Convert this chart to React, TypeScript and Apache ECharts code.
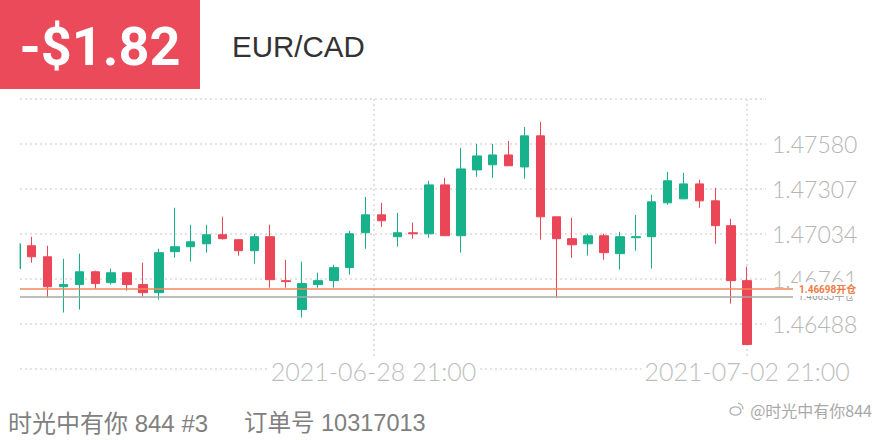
import React, { useEffect, useRef } from "react";
import * as echarts from "echarts";

// ---- header / footer texts ----
const pnlText = "-$1.82";
const symbolText = "EUR/CAD";
const footerUser = "时光中有你 844 #3";
const footerOrder = "订单号 10317013";
const watermarkText = "@时光中有你844";

// ---- candles (bar position k = 0..46, first one is cut by the left edge) ----
const opens = [
  1.46822, 1.46961, 1.46894, 1.46712, 1.46725, 1.46803, 1.46737, 1.46797, 1.46725, 1.46676,
  1.46925, 1.46955, 1.46973, 1.47028, 1.46998, 1.46931, 1.47016, 1.46749, 1.46573, 1.46725,
  1.46749, 1.46828, 1.47040, 1.47149, 1.47016, 1.47040, 1.47034, 1.47331, 1.47022, 1.47422,
  1.47453, 1.47513, 1.47440, 1.47629, 1.47137, 1.47004, 1.46973, 1.47022, 1.46913, 1.47010,
  1.47016, 1.47222, 1.47246, 1.47337, 1.47234, 1.47083, 1.46749,
];
const closes = [
  1.46973, 1.46894, 1.46712, 1.46725, 1.46803, 1.46731, 1.46797, 1.46725, 1.46676, 1.46919,
  1.46955, 1.46985, 1.47028, 1.47004, 1.46931, 1.47016, 1.46755, 1.46743, 1.46731, 1.46749,
  1.46828, 1.47034, 1.47149, 1.47113, 1.47040, 1.47034, 1.47331, 1.47022, 1.47428, 1.47507,
  1.47513, 1.47447, 1.47629, 1.47137, 1.47004, 1.46967, 1.47022, 1.46919, 1.47016, 1.47016,
  1.47228, 1.47356, 1.47337, 1.47234, 1.47083, 1.46749, 1.46361,
];
const lows = [
  1.46800, 1.46858, 1.46646, 1.46555, 1.46573, 1.46700, 1.46725, 1.46688, 1.46652, 1.46634,
  1.46888, 1.46864, 1.46919, 1.46998, 1.46901, 1.46852, 1.46706, 1.46706, 1.46524, 1.46706,
  1.46706, 1.46785, 1.46943, 1.47076, 1.46955, 1.47004, 1.47010, 1.47022, 1.46919, 1.47380,
  1.47374, 1.47447, 1.47368, 1.46998, 1.46646, 1.46888, 1.46901, 1.46876, 1.46816, 1.46931,
  1.46822, 1.47210, 1.47246, 1.47192, 1.46973, 1.46609, 1.46361,
];
const highs = [
  1.46990, 1.47016, 1.46961, 1.46882, 1.46913, 1.46810, 1.46822, 1.46800, 1.46858, 1.46943,
  1.47192, 1.47089, 1.47089, 1.47137, 1.47000, 1.47034, 1.47089, 1.46876, 1.46864, 1.46797,
  1.46846, 1.47052, 1.47258, 1.47222, 1.47161, 1.47101, 1.47356, 1.47374, 1.47556, 1.47580,
  1.47580, 1.47598, 1.47683, 1.47714, 1.47137, 1.47131, 1.47034, 1.47034, 1.47046, 1.47149,
  1.47271, 1.47410, 1.47404, 1.47362, 1.47313, 1.47125, 1.46834,
];

// ---- axes ----
const yMin = 1.46215;
const yMax = 1.47853;
const yStep = 0.00273;
const xMin = 0.264;
const xMax = 47.19;
const xTickPositions = [22.5, 46];
const xTickLabels = ["2021-06-28 21:00", "2021-07-02 21:00"];

// ---- position lines ----
const openPrice = 1.46698;
const openTag = "开仓";
const closePrice = 1.46653;
const closeTag = "平仓";

const UP = "#17B28B";
const DOWN = "#EA4658";
const GRID_LINE = "#e2e2e2";
const LIGHT_FONT = 'Lato, Roboto, sans-serif';

export default function App() {
  const ref = useRef<HTMLDivElement>(null);

  useEffect(() => {
    if (!ref.current) return;
    const chart = echarts.init(ref.current, undefined, { renderer: "svg" });
    const candleData = opens.map((o, k) => [k, o, closes[k], lows[k], highs[k]]);
    const dotted = { type: [2, 3] as any, width: 2, color: GRID_LINE };

    chart.setOption({
      animation: false,
      backgroundColor: "#ffffff",
      textStyle: { fontFamily: 'Roboto, "Noto Sans CJK SC", sans-serif' },
      grid: { left: 20, right: 114, top: 99, bottom: 71.5, containLabel: false, outerBoundsMode: "none" },
      xAxis: {
        type: "value",
        min: xMin,
        max: xMax,
        axisLine: { show: false },
        axisTick: { show: false, customValues: xTickPositions },
        splitLine: { show: true, lineStyle: dotted },
        axisLabel: {
          customValues: xTickPositions,
          formatter: (v: number) => {
            const i = xTickPositions.findIndex((p) => Math.abs(p - v) < 1e-6);
            return i >= 0 ? xTickLabels[i] : "";
          },
          fontSize: 25,
          fontWeight: 300,
          fontFamily: LIGHT_FONT,
          color: "#bdbdbd",
          verticalAlign: "middle",
          margin: 2,
          backgroundColor: "#ffffff",
          padding: [0, 3],
        },
      },
      yAxis: {
        type: "value",
        position: "right",
        min: yMin,
        max: yMax,
        interval: yStep,
        axisLine: { show: false },
        axisTick: { show: false },
        splitLine: { show: true, lineStyle: dotted },
        axisLabel: {
          showMinLabel: false,
          showMaxLabel: false,
          formatter: (v: number) => v.toFixed(5),
          fontSize: 23,
          fontWeight: 300,
          fontFamily: LIGHT_FONT,
          color: "#b5b5b5",
          margin: 6,
        },
      },
      series: [
        {
          type: "candlestick",
          data: candleData,
          encode: { x: 0, y: [1, 2, 3, 4] },
          barWidth: 9,
          clip: true,
          itemStyle: {
            color: UP,
            color0: DOWN,
            borderColor: UP,
            borderColor0: DOWN,
            borderWidth: 1,
          },
        },
        {
          type: "line",
          data: [],
          clip: false,
          silent: true,
          markLine: {
            symbol: "none",
            silent: true,
            animation: false,
            data: [
              [
                {
                  x: 20,
                  yAxis: closePrice,
                  lineStyle: { color: "#a9a9a9", width: 1.5, type: "solid" },
                  label: {
                    show: true,
                    position: "end",
                    formatter: closePrice.toFixed(5) + closeTag,
                    color: "#9a9a9a",
                    fontSize: 10,
                    distance: 5,
                  },
                },
                { x: 793, yAxis: closePrice },
              ],
              [
                {
                  x: 20,
                  yAxis: openPrice,
                  lineStyle: { color: "#F2875A", width: 1.5, type: "solid" },
                  label: {
                    show: true,
                    position: "end",
                    formatter: openPrice.toFixed(5) + openTag,
                    color: "#EF7A45",
                    fontSize: 10,
                    fontWeight: "bold",
                    distance: 5,
                    backgroundColor: "#ffffff",
                    padding: [2, 1, 2, 1],
                  },
                },
                { x: 793, yAxis: openPrice },
              ],
            ],
          },
        },
      ],
      graphic: [
        // the plot is scrolled: the first bar is cut by the plot's left edge
        { type: "rect", z: 100, shape: { x: 0, y: 95, width: 19.6, height: 280 }, style: { fill: "#ffffff" } },
        { type: "rect", z: 101, shape: { x: 0, y: 0, width: 200, height: 89 }, style: { fill: "#EA4A59" } },
        {
          type: "text",
          z: 102,
          x: 100,
          y: 46,
          style: {
            text: pnlText,
            fill: "#ffffff",
            fontSize: 54,
            fontWeight: "bold",
            fontFamily: "Roboto",
            textAlign: "center",
            textVerticalAlign: "middle",
          },
        },
        {
          type: "text",
          x: 232,
          y: 46,
          style: {
            text: symbolText,
            fill: "#333333",
            fontSize: 29.5,
            fontFamily: '"Liberation Sans", Arial, sans-serif',
            textAlign: "left",
            textVerticalAlign: "middle",
          },
        },
        {
          type: "text",
          x: 8,
          y: 423,
          style: {
            text: footerUser,
            fill: "#808080",
            fontSize: 24,
            fontFamily: '"Liberation Sans", "Noto Sans CJK SC", sans-serif',
            textAlign: "left",
            textVerticalAlign: "middle",
          },
        },
        {
          type: "text",
          x: 244,
          y: 423,
          style: {
            text: footerOrder,
            fill: "#808080",
            fontSize: 23.5,
            fontFamily: '"Liberation Sans", "Noto Sans CJK SC", sans-serif',
            textAlign: "left",
            textVerticalAlign: "middle",
          },
        },
        {
          type: "ellipse",
          shape: { cx: 735.5, cy: 411, rx: 5.5, ry: 4.2 },
          style: { fill: "none", stroke: "#b0b0b0", lineWidth: 1.3 },
        },
        {
          type: "arc",
          shape: { cx: 737, cy: 409, r: 6, startAngle: -Math.PI * 0.45, endAngle: 0.05 },
          style: { fill: "none", stroke: "#b0b0b0", lineWidth: 1.2 },
        },
        {
          type: "text",
          x: 872,
          y: 410,
          style: {
            text: watermarkText,
            fill: "#a8a8a8",
            fontSize: 16,
            fontFamily: '"Noto Sans CJK SC", sans-serif',
            textAlign: "right",
            textVerticalAlign: "middle",
          },
        },
      ],
    });
    return () => chart.dispose();
  }, []);

  return (
    <div
      ref={ref}
      style={{ position: "fixed", left: 0, top: 0, width: 880, height: 440, background: "#fff" }}
    />
  );
}
